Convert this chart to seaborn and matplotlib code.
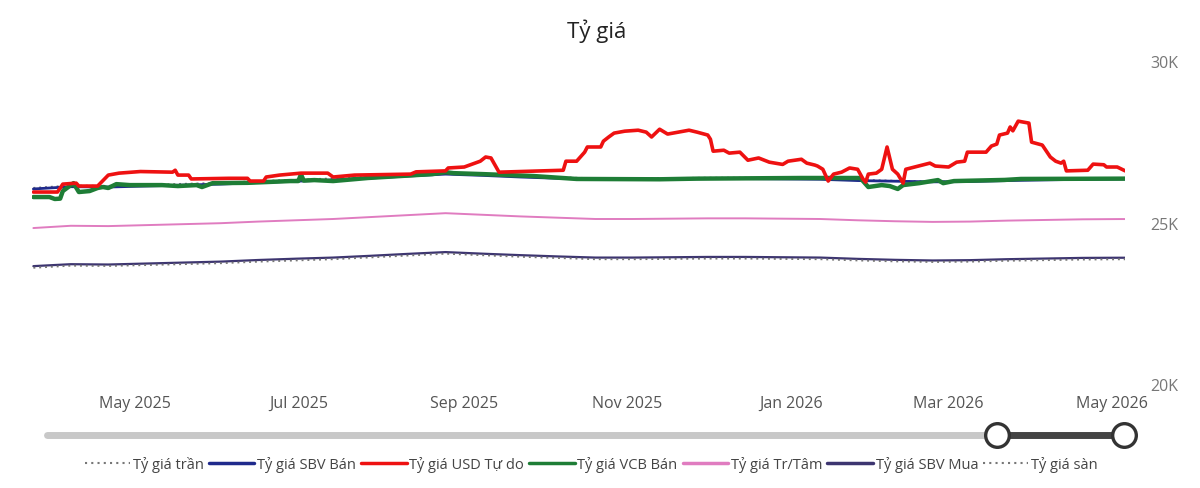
import pandas as pd
import matplotlib
matplotlib.use("Agg")
import matplotlib.pyplot as plt
import matplotlib.dates as mdates
import seaborn as sns
from matplotlib.lines import Line2D
from matplotlib.ticker import FuncFormatter

# smooth official series, sampled every two weeks
official_dates = [
    "2025-03-24", "2025-04-07", "2025-04-21", "2025-05-05", "2025-05-19", "2025-06-02",
    "2025-06-16", "2025-06-30", "2025-07-14", "2025-07-28", "2025-08-11", "2025-08-25",
    "2025-09-08", "2025-09-22", "2025-10-06", "2025-10-20", "2025-11-03", "2025-11-17",
    "2025-12-01", "2025-12-15", "2025-12-29", "2026-01-12", "2026-01-26", "2026-02-09",
    "2026-02-23", "2026-03-09", "2026-03-23", "2026-04-06", "2026-04-20", "2026-05-04",
    "2026-05-06",
]
central_rate = [
    24830, 24900, 24890, 24920, 24950, 24980, 25030, 25070, 25110, 25170, 25230, 25290,
    25240, 25190, 25150, 25110, 25110, 25120, 25130, 25130, 25120, 25110, 25070, 25040,
    25020, 25030, 25060, 25080, 25100, 25108, 25108,
]
ceiling_rate = [
    26072, 26145, 26135, 26166, 26198, 26229, 26282, 26324, 26366, 26429, 26492, 26555,
    26502, 26450, 26408, 26366, 26366, 26376, 26387, 26387, 26376, 26366, 26324, 26292,
    26271, 26282, 26313, 26334, 26355, 26363, 26363,
]
sbv_sell = [
    26040, 26110, 26100, 26130, 26160, 26190, 26240, 26280, 26320, 26380, 26440, 26500,
    26460, 26410, 26370, 26340, 26340, 26350, 26360, 26360, 26350, 26340, 26300, 26280,
    26260, 26270, 26300, 26320, 26340, 26350, 26350,
]
sbv_buy = [
    23650, 23710, 23700, 23730, 23760, 23790, 23840, 23880, 23915, 23970, 24030, 24085,
    24035, 23990, 23950, 23915, 23915, 23925, 23935, 23935, 23925, 23915, 23875, 23845,
    23825, 23835, 23865, 23885, 23905, 23910, 23910,
]
floor_rate = [
    23600, 23665, 23656, 23684, 23713, 23741, 23789, 23827, 23865, 23922, 23979, 24036,
    23988, 23941, 23903, 23865, 23865, 23874, 23884, 23884, 23874, 23865, 23827, 23798,
    23779, 23789, 23817, 23836, 23855, 23863, 23863,
]

# VCB selling rate
vcb_dates = [
    "2025-03-24", "2025-03-30", "2025-04-01", "2025-04-03", "2025-04-04", "2025-04-08",
    "2025-04-10", "2025-04-14", "2025-04-17", "2025-04-19", "2025-04-21", "2025-04-24",
    "2025-04-29", "2025-05-11", "2025-05-17", "2025-05-24", "2025-05-26", "2025-05-30",
    "2025-06-12", "2025-06-18", "2025-06-28", "2025-07-01", "2025-07-02", "2025-07-03",
    "2025-07-07", "2025-07-14", "2025-07-27", "2025-08-08", "2025-08-20", "2025-08-25",
    "2025-08-28", "2025-09-08", "2025-09-27", "2025-10-13", "2025-11-13", "2025-11-27",
    "2026-01-05", "2026-01-27", "2026-01-30", "2026-02-04", "2026-02-07", "2026-02-10",
    "2026-02-12", "2026-02-18", "2026-02-25", "2026-02-27", "2026-03-03", "2026-03-22",
    "2026-03-28", "2026-05-06",
]
vcb_sell = [
    25790, 25790, 25730, 25740, 25975, 26220, 25945, 25975, 26070, 26100, 26070, 26190,
    26160, 26160, 26130, 26160, 26100, 26220, 26230, 26250, 26285, 26285, 26490, 26300,
    26315, 26285, 26380, 26440, 26500, 26560, 26530, 26500, 26440, 26350, 26340, 26360,
    26380, 26380, 26100, 26160, 26130, 26040, 26160, 26220, 26315, 26220, 26285, 26320,
    26350, 26360,
]

# free market USD rate
free_dates = [
    "2025-03-24", "2025-04-02", "2025-04-04", "2025-04-09", "2025-04-10", "2025-04-17",
    "2025-04-21", "2025-04-25", "2025-05-03", "2025-05-15", "2025-05-16", "2025-05-17",
    "2025-05-21", "2025-05-22", "2025-06-05", "2025-06-12", "2025-06-13", "2025-06-18",
    "2025-06-19", "2025-06-24", "2025-07-02", "2025-07-12", "2025-07-14", "2025-07-22",
    "2025-08-12", "2025-08-14", "2025-08-25", "2025-08-26", "2025-09-01", "2025-09-07",
    "2025-09-09", "2025-09-11", "2025-09-14", "2025-10-08", "2025-10-09", "2025-10-13",
    "2025-10-16", "2025-10-17", "2025-10-22", "2025-10-23", "2025-10-25", "2025-10-27",
    "2025-10-31", "2025-11-05", "2025-11-08", "2025-11-10", "2025-11-13", "2025-11-16",
    "2025-11-20", "2025-11-24", "2025-11-27", "2025-12-01", "2025-12-02", "2025-12-03",
    "2025-12-07", "2025-12-09", "2025-12-13", "2025-12-16", "2025-12-20", "2025-12-24",
    "2025-12-29", "2025-12-31", "2026-01-05", "2026-01-07", "2026-01-10", "2026-01-11",
    "2026-01-13", "2026-01-15", "2026-01-17", "2026-01-20", "2026-01-23", "2026-01-26",
    "2026-01-28", "2026-01-29", "2026-01-30", "2026-02-02", "2026-02-04", "2026-02-06",
    "2026-02-08", "2026-02-10", "2026-02-12", "2026-02-13", "2026-02-22", "2026-02-24",
    "2026-03-01", "2026-03-04", "2026-03-07", "2026-03-08", "2026-03-15", "2026-03-17",
    "2026-03-19", "2026-03-20", "2026-03-23", "2026-03-24", "2026-03-25", "2026-03-27",
    "2026-03-31", "2026-04-01", "2026-04-05", "2026-04-08", "2026-04-10", "2026-04-12",
    "2026-04-13", "2026-04-14", "2026-04-22", "2026-04-24", "2026-04-28", "2026-04-29",
    "2026-05-03", "2026-05-06",
]
free_usd = [
    25945, 25945, 26190, 26220, 26130, 26130, 26470, 26530, 26580, 26560, 26620, 26470,
    26470, 26350, 26370, 26370, 26285, 26285, 26410, 26470, 26530, 26530, 26410, 26470,
    26500, 26570, 26600, 26690, 26720, 26900, 27030, 27000, 26560, 26620, 26900, 26900,
    27180, 27340, 27340, 27520, 27650, 27770, 27830, 27860, 27800, 27650, 27890, 27740,
    27800, 27860, 27800, 27710, 27580, 27210, 27240, 27150, 27180, 26930, 27000, 26870,
    26800, 26900, 26960, 26840, 26780, 26750, 26650, 26285, 26500, 26560, 26690, 26650,
    26350, 26250, 26500, 26530, 26650, 27340, 26650, 26500, 26220, 26650, 26840, 26750,
    26720, 26870, 26900, 27180, 27180, 27370, 27430, 27710, 27770, 27960, 27840, 28140,
    28080, 27490, 27400, 27030, 26900, 26840, 26900, 26600, 26620, 26810, 26790, 26720,
    26720, 26600,
]

official = pd.DataFrame({
    "date": pd.to_datetime(official_dates),
    "tran": ceiling_rate,
    "sbv_ban": sbv_sell,
    "tam": central_rate,
    "sbv_mua": sbv_buy,
    "san": floor_rate,
})
vcb = pd.DataFrame({"date": pd.to_datetime(vcb_dates), "rate": vcb_sell})
free = pd.DataFrame({"date": pd.to_datetime(free_dates), "rate": free_usd})

sns.set_style("white")
plt.rcParams["font.family"] = ["Open Sans", "DejaVu Sans"]

DOTTED = (0, (1, 2))
GRAY = "#777777"

fig = plt.figure(figsize=(12, 4.89), dpi=100)
ax = fig.add_axes([0.0267, 0.2127, 0.911, 0.6603])

sns.lineplot(data=official, x="date", y="tran", ax=ax, color=GRAY, lw=1.4,
             linestyle=DOTTED, label="Tỷ giá trần")
sns.lineplot(data=official, x="date", y="sbv_ban", ax=ax, color="#1f2a8c", lw=2,
             label="Tỷ giá SBV Bán")
sns.lineplot(data=vcb, x="date", y="rate", ax=ax, color="#1e7d36", lw=3.2,
             label="Tỷ giá VCB Bán")
sns.lineplot(data=free, x="date", y="rate", ax=ax, color="#ee1111", lw=2.6,
             label="Tỷ giá USD Tự do")
sns.lineplot(data=official, x="date", y="tam", ax=ax, color="#e07cc0", lw=1.4,
             label="Tỷ giá Tr/Tâm")
sns.lineplot(data=official, x="date", y="sbv_mua", ax=ax, color="#3d3570", lw=1.6,
             label="Tỷ giá SBV Mua")
sns.lineplot(data=official, x="date", y="san", ax=ax, color=GRAY, lw=1.4,
             linestyle=DOTTED, label="Tỷ giá sàn")

ax.set_xlim(pd.Timestamp("2025-03-23 12:00"), pd.Timestamp("2026-05-06"))
ax.set_ylim(20000, 30000)
ax.set_yticks([20000, 25000, 30000])
ax.yaxis.set_major_formatter(FuncFormatter(lambda v, p: f"{int(v / 1000)}K"))
ax.yaxis.tick_right()
ax.xaxis.set_major_locator(mdates.MonthLocator(bymonth=[1, 3, 5, 7, 9, 11]))
ax.xaxis.set_major_formatter(mdates.DateFormatter("%b %Y"))
ax.tick_params(axis="x", length=0, pad=8, labelsize=11.5, labelcolor="#555555")
ax.tick_params(axis="y", length=0, pad=18, labelsize=11.5, labelcolor="#777777")
ax.set_xlabel("")
ax.set_ylabel("")
for s in ax.spines.values():
    s.set_visible(False)
ax.grid(False)
ax.get_legend().remove()

# legend in the reference order
legend_items = [
    ("Tỷ giá trần", GRAY, 1.5, DOTTED),
    ("Tỷ giá SBV Bán", "#1f2a8c", 2.5, "-"),
    ("Tỷ giá USD Tự do", "#ee1111", 2.5, "-"),
    ("Tỷ giá VCB Bán", "#1e7d36", 2.5, "-"),
    ("Tỷ giá Tr/Tâm", "#e07cc0", 2.5, "-"),
    ("Tỷ giá SBV Mua", "#3d3570", 2.5, "-"),
    ("Tỷ giá sàn", GRAY, 1.5, DOTTED),
]
leg_handles = [Line2D([], [], color=c, lw=w, linestyle=ls) for _, c, w, ls in legend_items]
fig.legend(leg_handles, [n for n, *_ in legend_items], loc="center",
           bbox_to_anchor=(0.493, 0.049), ncol=7, frameon=False, fontsize=10.5,
           labelcolor="#444444", handlelength=3.1, handletextpad=0.2, columnspacing=0.35)

fig.text(0.497, 0.937, "Tỷ giá", ha="center", va="center", fontsize=16, color="#222222")

# date range slider under the chart (pixel overlay)
overlay = fig.add_axes([0, 0, 1, 1], zorder=-1)
overlay.set_xlim(0, 1200)
overlay.set_ylim(489, 0)
overlay.axis("off")
overlay.plot([47, 997], [436, 436], color="#c8c8c8", lw=5, solid_capstyle="round")
overlay.plot([997, 1124], [436, 436], color="#444444", lw=5)
overlay.scatter([997, 1124], [436, 436], s=290, facecolor="white", edgecolor="#333333",
                linewidth=2.4, zorder=3)

fig.savefig("out.png", dpi=100, facecolor="white")
